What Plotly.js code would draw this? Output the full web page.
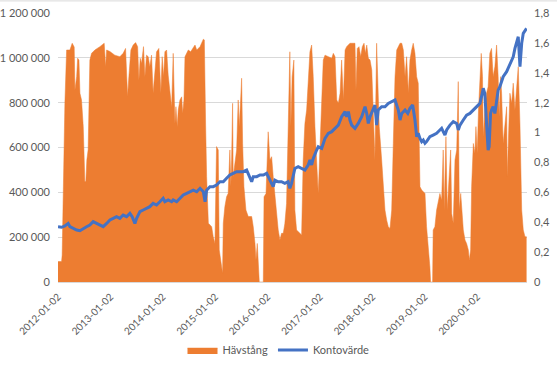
<!DOCTYPE html>
<html>
<head>
<meta charset="utf-8">
<script src="https://cdn.plot.ly/plotly-3.0.1.min.js"></script>
<style>
html,body{margin:0;padding:0;background:#fff;}
#chart{width:557px;height:365px;}
</style>
</head>
<body>
<div id="chart"></div>
<script>
// Hävstång (left axis, kr)
const havDates = [
"2012-01-02","2012-01-27","2012-01-31","2012-02-10","2012-02-19","2012-03-02","2012-03-25","2012-04-10","2012-04-24","2012-04-29",
"2012-05-11","2012-05-18","2012-05-27","2012-06-03","2012-06-14","2012-06-26","2012-07-07","2012-07-14","2012-07-21","2012-07-30",
"2012-08-11","2012-08-23","2012-09-15","2012-10-20","2012-11-19","2012-11-29","2012-12-06","2012-12-29",
"2013-02-01","2013-03-08","2013-03-31","2013-04-17","2013-05-01","2013-05-10","2013-05-24","2013-06-09","2013-06-26","2013-07-10",
"2013-07-19","2013-07-28","2013-08-06","2013-08-20","2013-08-30","2013-09-10","2013-09-22","2013-10-03","2013-10-15","2013-10-26",
"2013-11-07","2013-11-19","2013-12-05","2013-12-19","2013-12-28",
"2014-01-07","2014-01-16","2014-01-28","2014-02-08","2014-02-20","2014-03-04","2014-03-15","2014-03-20","2014-03-27","2014-04-03",
"2014-04-12","2014-04-19","2014-05-01","2014-05-13","2014-05-20","2014-05-29","2014-06-05","2014-06-28","2014-07-15","2014-07-29",
"2014-08-14","2014-08-26","2014-09-18","2014-10-11","2014-10-18","2014-10-27","2014-11-03","2014-11-15","2014-12-08","2014-12-19","2014-12-31",
"2015-01-11","2015-01-23","2015-01-30","2015-02-08","2015-02-22","2015-02-27","2015-03-10","2015-03-22","2015-04-02","2015-04-14",
"2015-04-21","2015-04-26","2015-05-03","2015-05-07","2015-05-19","2015-05-31","2015-06-11","2015-06-18","2015-06-28","2015-07-05",
"2015-07-12","2015-07-21","2015-08-04","2015-08-20","2015-09-13","2015-09-24","2015-10-06","2015-10-13","2015-10-22","2015-11-01",
"2015-11-05","2015-12-03","2015-12-08","2015-12-22",
"2016-01-06","2016-01-18","2016-01-30","2016-02-10","2016-02-22","2016-03-05","2016-03-16","2016-03-28","2016-04-08","2016-04-20",
"2016-05-01","2016-05-13","2016-05-24","2016-06-05","2016-06-12","2016-06-21","2016-07-03","2016-07-10","2016-07-22","2016-08-14",
"2016-08-26","2016-09-06","2016-09-18","2016-09-30","2016-10-11","2016-10-23","2016-11-04","2016-11-15","2016-11-27","2016-12-09","2016-12-20",
"2017-01-02","2017-01-13","2017-01-24","2017-02-05","2017-02-28","2017-03-24","2017-04-04","2017-04-16","2017-04-28","2017-05-09",
"2017-05-21","2017-06-01","2017-06-13","2017-06-25","2017-07-06","2017-07-29","2017-09-02","2017-09-09","2017-09-18","2017-09-30",
"2017-10-12","2017-10-23","2017-11-04","2017-11-13","2017-11-23","2017-12-04","2017-12-16","2017-12-28",
"2018-01-07","2018-01-19","2018-01-31","2018-02-07","2018-02-18","2018-03-07","2018-03-18","2018-03-30","2018-04-11","2018-04-22",
"2018-05-04","2018-05-16","2018-05-27","2018-06-08","2018-06-20","2018-07-01","2018-07-13","2018-07-25","2018-08-05","2018-08-17",
"2018-08-28","2018-09-09","2018-09-20","2018-10-02","2018-10-13","2018-10-25","2018-11-06","2018-11-17","2018-11-29","2018-12-11","2018-12-22",
"2019-01-03","2019-01-14","2019-01-25","2019-02-06","2019-02-11","2019-02-25","2019-03-01","2019-03-13","2019-03-25","2019-04-05",
"2019-04-17","2019-04-29","2019-05-10","2019-05-17","2019-05-29","2019-06-07","2019-06-21","2019-07-01","2019-07-08","2019-07-19",
"2019-07-31","2019-08-12","2019-08-23","2019-08-30","2019-09-09","2019-09-16","2019-09-27","2019-10-09","2019-10-20","2019-11-01",
"2019-11-08","2019-11-17","2019-11-24","2019-12-06","2019-12-17","2019-12-24",
"2020-01-02","2020-01-11","2020-01-21","2020-01-30","2020-02-08","2020-02-13","2020-02-24","2020-03-07","2020-03-18","2020-03-30",
"2020-04-11","2020-04-22","2020-05-04","2020-05-16","2020-05-27","2020-06-03","2020-06-13","2020-06-20","2020-07-01","2020-07-13",
"2020-07-25","2020-07-29","2020-08-05","2020-08-17","2020-08-29","2020-09-09","2020-09-21","2020-10-03","2020-10-14","2020-10-26",
"2020-11-07","2020-11-18","2020-11-30","2020-12-11"
];
const havValues = [
91000,91000,120000,600000,797000,1035000,1035000,1065000,1048000,857000,
916000,998000,990000,842000,812000,693000,448000,448000,544000,590000,
990000,1020000,1035000,1050000,1065000,960000,1035000,1028000,
1012000,1005000,1020000,1042000,827000,916000,1035000,1057000,1068000,1050000,
900000,998000,975000,1050000,916000,1012000,1005000,960000,1012000,842000,
953000,1027000,1042000,842000,1005000,
916000,1027000,1035000,923000,842000,780000,1020000,916000,707000,782000,
693000,767000,812000,826000,752000,812000,1005000,1035000,1027000,1042000,
1057000,1035000,1050000,1083000,1080000,700000,470000,262000,247000,202000,172000,
604000,589000,143000,98000,39000,262000,336000,380000,395000,589000,
425000,544000,797000,470000,530000,589000,812000,693000,812000,909000,
618000,425000,321000,292000,292000,247000,172000,98000,172000,39000,
0,0,380000,395000,
670000,544000,559000,470000,380000,321000,232000,187000,217000,217000,
260000,350000,618000,1027000,693000,916000,990000,321000,232000,217000,
210000,544000,707000,767000,916000,1027000,1057000,916000,693000,530000,395000,
618000,842000,990000,1012000,1005000,998000,1020000,1005000,812000,797000,
842000,990000,812000,1035000,1050000,1065000,1065000,856000,1042000,1050000,
1005000,1050000,1065000,1020000,1057000,998000,990000,946000,
767000,544000,1065000,916000,693000,544000,425000,321000,276000,247000,
239000,321000,618000,916000,1035000,1050000,1065000,1065000,1035000,916000,
1005000,842000,990000,1035000,1065000,1020000,916000,887000,425000,410000,403000,
395000,247000,172000,68000,0,0,232000,247000,321000,350000,
395000,365000,589000,321000,648000,321000,470000,589000,306000,262000,
544000,589000,894000,321000,395000,321000,232000,187000,172000,143000,
98000,143000,425000,618000,574000,693000,
574000,767000,916000,1020000,916000,648000,767000,842000,871000,1020000,
1042000,916000,960000,1057000,916000,738000,916000,842000,618000,722000,
782000,470000,618000,842000,797000,887000,767000,856000,960000,700000,
321000,232000,202000,202000
];

// Kontovärde (right axis)
const kontoDates = [
"2012-01-02","2012-01-27","2012-02-19","2012-03-13","2012-03-25","2012-04-17","2012-05-11","2012-06-03","2012-06-26","2012-07-19",
"2012-08-11","2012-09-03","2012-09-27","2012-10-20","2012-11-12","2012-12-06","2012-12-29",
"2013-01-21","2013-02-13","2013-03-08","2013-03-31","2013-04-24","2013-05-17","2013-06-02","2013-06-21","2013-07-03","2013-07-26",
"2013-08-18","2013-09-10","2013-10-03","2013-10-26","2013-11-19","2013-12-12",
"2014-01-04","2014-01-16","2014-02-08","2014-03-04","2014-03-15","2014-04-08","2014-05-01","2014-05-24","2014-06-17","2014-07-10",
"2014-08-02","2014-08-26","2014-09-18","2014-10-11","2014-10-23","2014-11-03","2014-11-26","2014-12-19",
"2015-01-11","2015-02-04","2015-02-27","2015-03-22","2015-04-14","2015-05-07","2015-05-31","2015-06-23","2015-07-16","2015-08-09",
"2015-09-01","2015-09-13","2015-09-24","2015-10-18","2015-11-10","2015-12-03","2015-12-26",
"2016-01-18","2016-02-10","2016-02-22","2016-03-16","2016-04-08","2016-05-01","2016-05-24","2016-06-05","2016-06-17","2016-07-10",
"2016-08-02","2016-08-26","2016-09-18","2016-10-11","2016-10-23","2016-11-04","2016-11-15","2016-12-09","2016-12-20",
"2017-01-13","2017-02-05","2017-02-28","2017-03-24","2017-04-16","2017-05-09","2017-06-01","2017-06-25","2017-07-06","2017-07-18",
"2017-07-29","2017-08-10","2017-09-02","2017-09-25","2017-10-19","2017-11-11","2017-11-23","2017-12-04","2017-12-16",
"2018-01-07","2018-01-19","2018-01-31","2018-02-11","2018-03-07","2018-03-30","2018-04-22","2018-05-16","2018-06-08","2018-07-01",
"2018-07-13","2018-07-25","2018-08-17","2018-09-05","2018-09-20","2018-10-09","2018-10-25","2018-11-06","2018-11-17","2018-11-29",
"2018-12-11","2018-12-22",
"2019-01-03","2019-01-14","2019-02-06","2019-03-01","2019-03-25","2019-04-17","2019-04-29","2019-05-10","2019-05-22","2019-06-03",
"2019-06-26","2019-07-19","2019-08-12","2019-08-23","2019-09-04","2019-09-27","2019-10-20","2019-11-12","2019-12-06","2019-12-29",
"2020-01-21","2020-02-01","2020-02-13","2020-02-24","2020-03-02","2020-03-11","2020-03-18","2020-03-25","2020-04-04","2020-04-11",
"2020-04-22","2020-05-04","2020-05-16","2020-05-27","2020-06-08","2020-06-20","2020-07-01","2020-07-25","2020-08-17","2020-09-09",
"2020-09-21","2020-10-03","2020-10-14","2020-10-26","2020-11-07","2020-11-18","2020-11-30","2020-12-11"
];
const kontoValues = [
0.370,0.366,0.375,0.392,0.370,0.359,0.348,0.343,0.359,0.370,
0.381,0.404,0.392,0.381,0.370,0.392,0.415,
0.426,0.437,0.426,0.448,0.437,0.459,0.437,0.392,0.426,0.471,
0.482,0.493,0.504,0.526,0.515,0.537,
0.560,0.537,0.549,0.537,0.549,0.537,0.560,0.582,0.593,0.604,
0.615,0.604,0.627,0.604,0.537,0.615,0.638,0.638,
0.649,0.671,0.671,0.694,0.716,0.727,0.738,0.738,0.738,0.749,
0.705,0.671,0.705,0.705,0.716,0.716,0.727,
0.682,0.638,0.682,0.671,0.671,0.660,0.671,0.627,0.660,0.760,
0.772,0.760,0.749,0.783,0.816,0.783,0.827,0.883,0.905,
0.894,0.961,0.995,1.006,1.028,1.050,1.106,1.140,1.106,1.140,
1.084,1.050,1.028,1.061,1.106,1.173,1.128,1.061,1.106,
1.151,1.184,1.050,1.151,1.173,1.173,1.195,1.206,1.218,1.151,
1.084,1.128,1.151,1.128,1.162,1.184,1.084,0.972,0.995,0.961,
0.939,0.950,
0.928,0.939,0.972,0.983,0.995,1.017,1.028,1.006,0.983,1.017,
1.050,1.073,1.061,1.017,1.050,1.084,1.117,1.128,1.151,1.173,
1.195,1.240,1.296,1.262,1.151,0.972,0.883,0.905,1.128,1.151,
1.173,1.128,1.218,1.284,1.307,1.351,1.374,1.407,1.452,1.507,
1.563,1.608,1.641,1.441,1.597,1.664,1.686,1.697
];

const xTickVals = ["2012-01-02","2013-01-02","2014-01-02","2015-01-02","2016-01-02","2017-01-02","2018-01-02","2019-01-02","2020-01-02"];
const xTickText = ["2012-01-02","2013-01-02","2014-01-02","2015-01-02","2016-01-02","2017-01-02","2018-01-02","2019-01-02","2020-01-02"];
const seriesNames = ["Hävstång","Kontovärde"];

const traces = [
  {
    x: havDates, y: havValues, name: seriesNames[0], type: "scatter", mode: "lines",
    fill: "tozeroy", fillcolor: "#ED7D31", line: {color: "#ED7D31", width: 0.5},
    yaxis: "y"
  },
  {
    x: kontoDates, y: kontoValues, name: seriesNames[1], type: "scatter", mode: "lines",
    line: {color: "#4472C4", width: 3}, yaxis: "y2"
  }
];

const font = {family: "Lato, 'Open Sans', sans-serif", size: 10, color: "#595959"};

const layout = {
  width: 557, height: 365,
  margin: {l: 58, r: 30, t: 13, b: 83, pad: 0, autoexpand: false},
  paper_bgcolor: "#ffffff", plot_bgcolor: "#ffffff",
  separators: ", ",
  font: font,
  showlegend: true,
  legend: {orientation: "h", x: 0.5, xanchor: "center", xref: "container",
           y: 0.041, yanchor: "middle", yref: "container",
           font: {family: font.family, size: 11, color: "#595959"}, traceorder: "normal", itemwidth: 30},
  xaxis: {
    type: "date", range: ["2012-01-02", "2020-12-14"], automargin: false,
    tickmode: "array", tickvals: xTickVals, ticktext: xTickText,
    tickangle: -45, showgrid: false, zeroline: false,
    showline: true, linecolor: "#D9D9D9", linewidth: 1,
    ticks: "", ticklabelstandoff: 4, tickfont: {family: font.family, size: 10, color: "#595959"}
  },
  yaxis: {
    range: [0, 1200000], dtick: 200000, tick0: 0, tickformat: ",d", automargin: false,
    showgrid: true, gridcolor: "#D9D9D9", gridwidth: 1, zeroline: false,
    showline: false, ticks: "", ticklabelstandoff: 7,
    tickfont: {family: font.family, size: 11, color: "#595959"}
  },
  yaxis2: {
    range: [0, 1.8], dtick: 0.2, tick0: 0, overlaying: "y", side: "right", automargin: false,
    showgrid: false, zeroline: false, showline: false, ticks: "", ticklabelstandoff: 6,
    tickfont: {family: font.family, size: 11, color: "#595959"}
  },
  shapes: [
    {type: "line", xref: "paper", yref: "paper", x0: -0.2, x1: 1.1, y0: 1.045, y1: 1.045,
     line: {color: "#D9D9D9", width: 1}}
  ]
};

Plotly.newPlot("chart", traces, layout, {displayModeBar: false, staticPlot: true});
</script>
</body>
</html>
